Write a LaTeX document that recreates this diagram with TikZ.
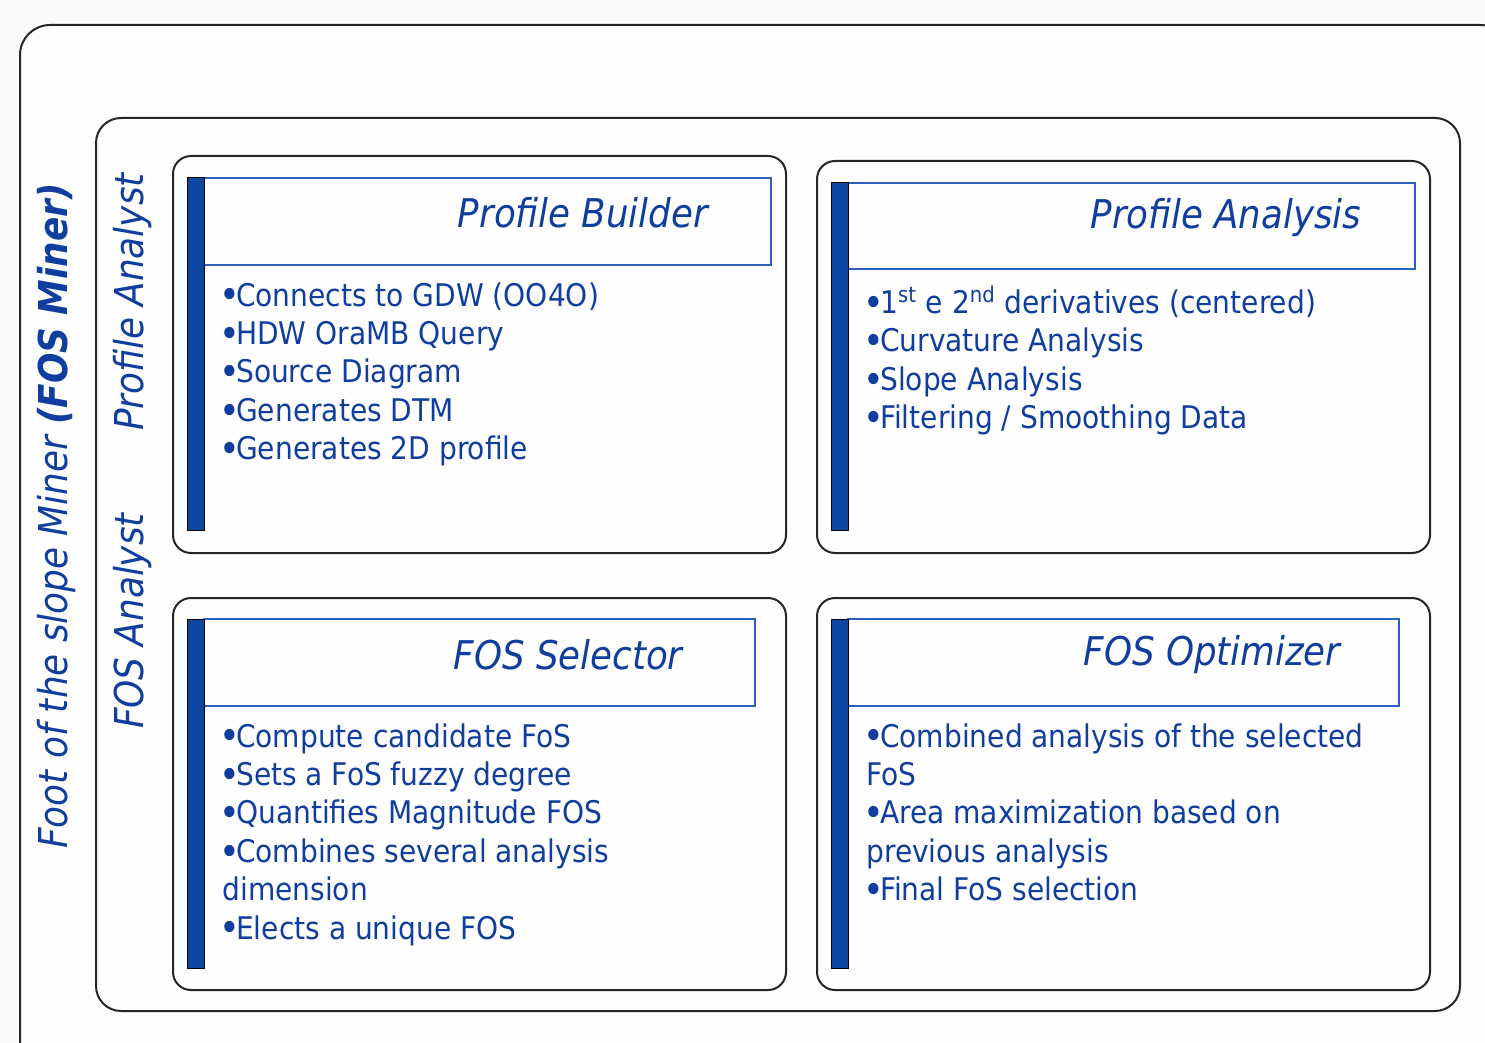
\documentclass[tikz,border=0pt]{standalone}
\usepackage{fontspec}
\setmainfont{DejaVu Sans Condensed}
\definecolor{txtblue}{RGB}{16,62,158}
\definecolor{barblue}{RGB}{13,71,161}
\definecolor{lineblue}{RGB}{45,95,190}
\definecolor{bgc}{RGB}{250,250,250}
\newcommand{\bul}{\kern-0.1em\raisebox{-0.09em}{\scalebox{1.25}{•}}\kern-0.12em}
\begin{document}
\begin{tikzpicture}[x=0.5pt,y=-0.5pt,
  frame/.style={draw=black!85,line width=1pt,fill=white,fill opacity=0.6,text opacity=1},
  quad/.style={frame,rounded corners=9pt},
  bar/.style={draw=black,line width=0.5pt,fill=barblue},
  titlebox/.style={draw=lineblue,line width=0.7pt},
  title/.style={font=\fontsize{19.8}{24}\selectfont\itshape,text=txtblue,inner sep=0pt},
  items/.style={font=\fontsize{15.6}{19.2}\selectfont,text=txtblue,align=left,anchor=north west,inner sep=0pt},
  side/.style={font=\fontsize{19.9}{24}\selectfont\itshape,text=txtblue,rotate=90,inner sep=0pt}]
\useasboundingbox (0,0) rectangle (1485,1043);
\fill[bgc] (0,0) rectangle (1485,1043);
\begin{scope}
\clip (0,0) rectangle (1485,1043);
\draw[frame,rounded corners=15pt] (20,25) rectangle (1510,1070);
\end{scope}
\draw[frame,rounded corners=12.5pt] (96,118) rectangle (1460,1011);
% quadrants
\draw[quad] (173,156) rectangle (786,553);
\draw[quad] (817,161) rectangle (1430,553);
\draw[quad] (173,598) rectangle (786,990);
\draw[quad] (817,598) rectangle (1430,990);
% title boxes and bars
\draw[titlebox] (204,178) rectangle (771,265);
\draw[bar] (187,178) rectangle (204,531);
\draw[titlebox] (848,183) rectangle (1415,269);
\draw[bar] (831,183) rectangle (848,531);
\draw[titlebox] (204,619) rectangle (755,706);
\draw[bar] (187,619) rectangle (204,968);
\draw[titlebox] (848,619) rectangle (1399,706);
\draw[bar] (831,619) rectangle (848,968);
% titles
\node[title] (t1) at (583,213) {Profile Builder};
\node[title] (t2) at (1226,218) {Profile Analysis};
\node[title] (t3) at (568,655) {FOS Selector};
\node[title] (t4) at (1212,655) {FOS Optimizer};
% lists
\node[items] (l1) at (222,282) {\bul Connects to GDW (OO4O)\\\bul HDW OraMB Query\\\bul Source Diagram\\\bul Generates DTM\\\bul Generates 2D profile};
\node[items] (l2) at (866,286) {\bul 1\textsuperscript{st} e 2\textsuperscript{nd} derivatives (centered)\\\bul Curvature Analysis\\\bul Slope Analysis\\\bul Filtering / Smoothing Data};
\node[items] (l3) at (222,723) {\bul Compute candidate FoS\\\bul Sets a FoS fuzzy degree\\\bul Quantifies Magnitude FOS\\\bul Combines several analysis\\dimension\\\bul Elects a unique FOS};
\node[items] (l4) at (866,723) {\bul Combined analysis of the selected\\FoS\\\bul Area maximization based on\\previous analysis\\\bul Final FoS selection};
% side labels
\node[side] (s1) at (57,516) {Foot of the slope Miner \textbf{(FOS Miner)}};
\node[side] (s2) at (133,302) {Profile Analyst};
\node[side] (s3) at (133,621) {FOS Analyst};
\end{tikzpicture}
\end{document}
